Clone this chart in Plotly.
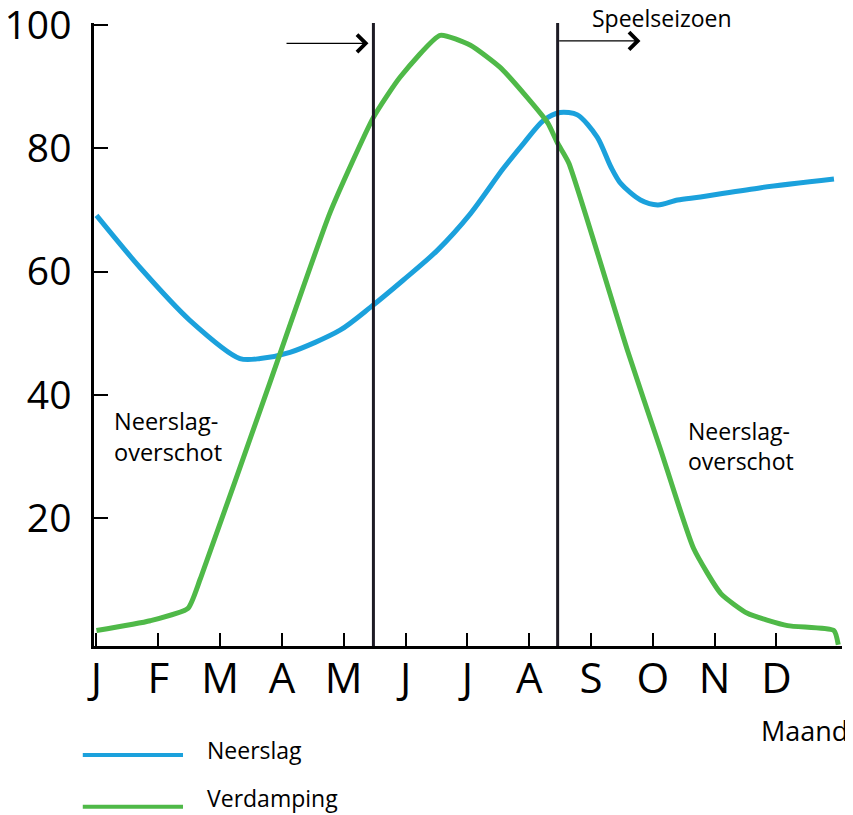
import plotly.graph_objects as go

# ---- data (x in months from 1 Jan, y in mm) ----
months = ["J", "F", "M", "A", "M", "J", "J", "A", "S", "O", "N", "D"]
month_pos = list(range(12))
y_ticks = [20, 40, 60, 80, 100]

neerslag_x = [0, 0.70, 1.51, 2.32, 2.65, 3.13, 3.94, 4.43, 4.96, 5.51, 6.05, 6.58, 6.91,
              7.23, 7.50, 7.78, 8.10, 8.32, 8.48, 8.80, 9.08, 9.40, 9.77, 10.75, 11.93]
neerslag_y = [69.1, 60.7, 52.1, 45.9, 45.9, 46.9, 50.5, 54.2, 58.6, 63.4, 69.4, 76.7, 80.8,
              84.5, 85.8, 85.4, 81.8, 77.0, 74.3, 71.6, 70.8, 71.6, 72.1, 73.6, 75.0]

verdamping_x = [0, 0.87, 1.48, 1.68, 2.76, 3.78, 4.48, 4.91, 5.56, 6.05, 6.53, 6.97,
                7.30, 7.46, 7.64, 8.59, 9.13, 9.66, 10.10, 10.53, 11.18, 11.93, 12.0]
verdamping_y = [1.8, 3.4, 5.4, 10.2, 40.7, 69.6, 85.0, 91.5, 98.3, 96.7, 93.1, 88.2,
                84.1, 80.8, 77.6, 47.2, 31.0, 15.1, 7.8, 4.6, 2.6, 1.8, -0.5]

season_lines = [4.48, 7.46]

BLUE = "#1ba1dc"
GREEN = "#4fb948"
DARK = "#1d1b24"
FONT = "Open Sans"

fig = go.Figure()
fig.add_trace(go.Scatter(x=neerslag_x, y=neerslag_y, mode="lines", name="Neerslag",
                         line=dict(color=BLUE, width=5, shape="spline", smoothing=0.8)))
fig.add_trace(go.Scatter(x=verdamping_x, y=verdamping_y, mode="lines", name="Verdamping",
                         line=dict(color=GREEN, width=5, shape="spline", smoothing=0.5)))

for xv in season_lines:
    fig.add_shape(type="line", xref="x", yref="y", x0=xv, x1=xv, y0=-0.7, y1=100.3,
                  line=dict(color=DARK, width=3))

# arrows
fig.add_annotation(x=4.40, y=97.0, ax=3.05, ay=97.0, xref="x", yref="y", axref="x", ayref="y",
                   text="", showarrow=True, arrowhead=4, arrowsize=2.6, arrowwidth=1.3,
                   arrowcolor="black")
fig.add_annotation(x=8.80, y=97.4, ax=7.46, ay=97.4, xref="x", yref="y", axref="x", ayref="y",
                   text="", showarrow=True, arrowhead=4, arrowsize=2.6, arrowwidth=1.3,
                   arrowcolor="black")

fig.add_annotation(x=7.98, y=1.008, xref="x", yref="paper", text="Speelseizoen", showarrow=False,
                   xanchor="left", yanchor="middle", font=dict(family=FONT, size=23, color="black"))
fig.add_annotation(x=0.25, y=33.2, xref="x", yref="y", text="Neerslag-<br>overschot",
                   showarrow=False, xanchor="left", yanchor="middle", align="left",
                   font=dict(family=FONT, size=23.5, color="black"))
fig.add_annotation(x=9.53, y=31.7, xref="x", yref="y", text="Neerslag-<br>overschot",
                   showarrow=False, xanchor="left", yanchor="middle", align="left",
                   font=dict(family=FONT, size=23, color="black"))
fig.add_annotation(x=1.011, y=-0.135, xref="paper", yref="paper", text="Maand",
                   showarrow=False, xanchor="right", yanchor="middle",
                   font=dict(family=FONT, size=27, color="black"))

# custom legend
legend_items = [("Neerslag", BLUE, -0.175, -0.167), ("Verdamping", GREEN, -0.258, -0.244)]
for label, col, yl, yt in legend_items:
    fig.add_shape(type="line", xref="paper", yref="paper", x0=-0.015, x1=0.119, y0=yl, y1=yl,
                  line=dict(color=col, width=4))
    fig.add_annotation(x=0.149, y=yt, xref="paper", yref="paper", text=label, showarrow=False,
                       xanchor="left", yanchor="middle",
                       font=dict(family=FONT, size=23, color="black"))

fig.update_layout(
    width=845, height=807,
    margin=dict(l=86, r=11, t=15, b=169, autoexpand=False),
    paper_bgcolor="white", plot_bgcolor="white",
    showlegend=False,
    font=dict(family=FONT, color="black"),
    xaxis=dict(range=[-0.04, 12.06], tickvals=month_pos, ticktext=months,
               ticks="inside", ticklen=13, tickwidth=2, tickcolor="black",
               showline=True, linecolor="black", linewidth=2.5, showgrid=False, zeroline=False,
               tickfont=dict(family=FONT, size=42, color="black"), ticklabelstandoff=-6,
               ticklabeloverflow="allow", automargin=False),
    yaxis=dict(range=[-0.7, 100.3], tickvals=y_ticks, ticks="inside", ticklen=14, tickwidth=2,
               tickcolor="black", showline=True, linecolor="black", linewidth=2.5,
               showgrid=False, zeroline=False,
               tickfont=dict(family=FONT, size=39, color="black"), ticklabelstandoff=12,
               ticklabeloverflow="allow", automargin=False),
)

fig.write_html("out.html")
